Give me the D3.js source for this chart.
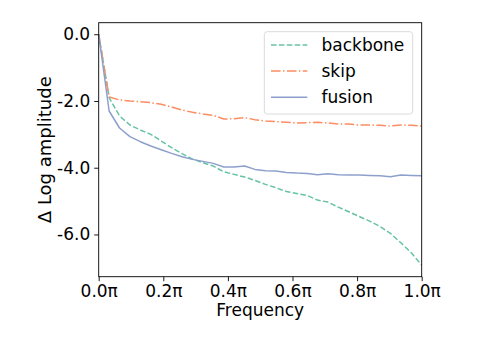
<!DOCTYPE html>
<html>
<head>
<meta charset="utf-8">
<script src="https://cdn.jsdelivr.net/npm/d3@7"></script>
<style>
  html, body { margin: 0; padding: 0; background: #fff; }
  svg { display: block; font-family: "DejaVu Sans", sans-serif; }
</style>
</head>
<body>
<svg id="chart" width="499" height="339"></svg>
<script>
// ---- data ----
const xTicks = [0, 0.2, 0.4, 0.6, 0.8, 1.0];
const xTickLabels = ["0.0π", "0.2π", "0.4π", "0.6π", "0.8π", "1.0π"];
const yTicks = [0, -2, -4, -6];
const yTickLabels = ["0.0", "-2.0", "-4.0", "-6.0"];
const seriesNames = ["backbone", "skip", "fusion"];

const backbone = [0, -1.90, -2.45, -2.72, -2.87, -3.00, -3.20, -3.40, -3.58, -3.74,
  -3.85, -3.95, -4.12, -4.20, -4.28, -4.38, -4.50, -4.60, -4.71, -4.77,
  -4.83, -4.97, -5.03, -5.18, -5.32, -5.46, -5.60, -5.76, -5.97, -6.25,
  -6.55, -6.92];
const skip = [0, -1.88, -1.97, -2.00, -2.02, -2.05, -2.10, -2.18, -2.27, -2.34,
  -2.39, -2.43, -2.54, -2.53, -2.50, -2.56, -2.60, -2.62, -2.64, -2.66,
  -2.65, -2.64, -2.66, -2.69, -2.69, -2.72, -2.72, -2.73, -2.75, -2.72,
  -2.73, -2.75];
const fusion = [0, -2.30, -2.81, -3.07, -3.22, -3.35, -3.46, -3.57, -3.67, -3.75,
  -3.81, -3.87, -3.98, -3.98, -3.95, -4.05, -4.09, -4.10, -4.14, -4.16,
  -4.17, -4.21, -4.18, -4.21, -4.22, -4.22, -4.23, -4.24, -4.27, -4.22,
  -4.23, -4.24];
const frequency = backbone.map((_, i) => i / (backbone.length - 1));

// ---- layout ----
const plot = { left: 98.7, right: 421.7, top: 22.7, bottom: 276.7 };
const colors = ["#66c2a5", "#fc8d62", "#8da0cb"];
const dashes = ["5.5,2.4", "9.6,2.4,1.5,2.4", null];
const fontSize = 17;

const all = backbone.concat(skip, fusion);
const dmin = d3.min(all), dmax = d3.max(all);
const m = (dmax - dmin) * 0.05;

const x = d3.scaleLinear().domain([0, 1]).range([plot.left, plot.right]);
const y = d3.scaleLinear().domain([dmin - m, dmax + m]).range([plot.bottom, plot.top]);

const svg = d3.select("#chart");

// lines
const data = [backbone, skip, fusion];
const line = d3.line().x((d, i) => x(frequency[i])).y(d => y(d));
svg.append("clipPath").attr("id", "clip").append("rect")
  .attr("x", plot.left).attr("y", plot.top)
  .attr("width", plot.right - plot.left).attr("height", plot.bottom - plot.top);

const g = svg.append("g").attr("clip-path", "url(#clip)");
data.forEach((s, k) => {
  g.append("path")
    .datum(s)
    .attr("d", line)
    .attr("fill", "none")
    .attr("stroke", colors[k])
    .attr("stroke-width", 1.5)
    .attr("stroke-dasharray", dashes[k])
    .attr("stroke-linejoin", "round");
});

// axes
const xAxis = d3.axisBottom(x).tickValues(xTicks)
  .tickFormat((d, i) => xTickLabels[i]).tickSize(4.5).tickPadding(4);
const yAxis = d3.axisLeft(y).tickValues(yTicks)
  .tickFormat((d, i) => yTickLabels[i]).tickSize(4.5).tickPadding(4);

const gx = svg.append("g").attr("transform", `translate(0,${plot.bottom})`).call(xAxis);
const gy = svg.append("g").attr("transform", `translate(${plot.left},0)`).call(yAxis);
[gx, gy].forEach(a => {
  a.select(".domain").remove();
  a.selectAll(".tick line").attr("stroke", "#000").attr("stroke-width", 0.9);
  a.selectAll(".tick text").attr("fill", "#000")
    .style("font-size", fontSize + "px").style("font-family", "DejaVu Sans");
});

// spines
svg.append("rect")
  .attr("x", plot.left).attr("y", plot.top)
  .attr("width", plot.right - plot.left).attr("height", plot.bottom - plot.top)
  .attr("fill", "none").attr("stroke", "#000").attr("stroke-width", 0.9);

// axis labels
svg.append("text")
  .attr("x", (plot.left + plot.right) / 2).attr("y", 316)
  .attr("text-anchor", "middle").style("font-size", fontSize + "px")
  .text("Frequency");
svg.append("text")
  .attr("transform", `translate(51,${(plot.top + plot.bottom) / 2}) rotate(-90)`)
  .attr("text-anchor", "middle").style("font-size", "18px")
  .text("Δ Log amplitude");

// legend
const lg = svg.append("g");
lg.append("rect")
  .attr("x", 264.3).attr("y", 31.7).attr("width", 148.4).attr("height", 82.3)
  .attr("rx", 3).attr("fill", "#fff").attr("fill-opacity", 0.8)
  .attr("stroke", "#d6d6d6").attr("stroke-width", 0.9);
const rowY = [45, 71, 97.3];
seriesNames.forEach((name, k) => {
  lg.append("line")
    .attr("x1", 271).attr("x2", 307.3).attr("y1", rowY[k]).attr("y2", rowY[k])
    .attr("stroke", colors[k]).attr("stroke-width", 1.5)
    .attr("stroke-dasharray", dashes[k]);
  lg.append("text")
    .attr("x", 321.5).attr("y", rowY[k]).attr("dy", "0.35em")
    .style("font-size", fontSize + "px").text(name);
});
</script>
</body>
</html>
